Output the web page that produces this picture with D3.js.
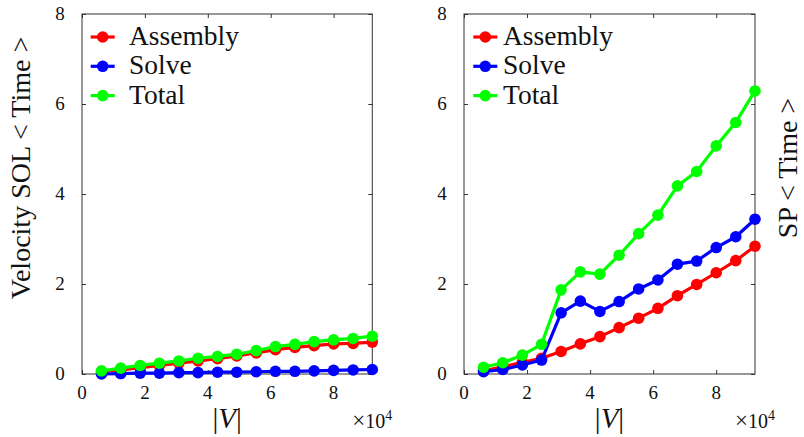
<!DOCTYPE html>
<html>
<head>
<meta charset="utf-8">
<script src="https://cdn.jsdelivr.net/npm/d3@7/dist/d3.min.js"></script>
<style>
  body { margin: 0; background: #fff; }
</style>
</head>
<body>
<div id="chart"></div>
<script>
// |V| in units of 1e4
var vSizes = [0.62, 1.23, 1.85, 2.46, 3.08, 3.69, 4.31, 4.92, 5.54, 6.15, 6.77, 7.38, 8.00, 8.62, 9.23];
var seriesNames = ["Assembly", "Solve", "Total"];
var seriesColors = ["#ff0000", "#0000ff", "#00ff00"];
var xTicks = [0, 2, 4, 6, 8];
var yTicks = [0, 2, 4, 6, 8];

// Velocity SOL
var solAssembly = [0.05, 0.09, 0.14, 0.19, 0.24, 0.29, 0.34, 0.40, 0.47, 0.54, 0.59, 0.63, 0.67, 0.68, 0.71];
var solSolve    = [0.00, 0.01, 0.02, 0.02, 0.03, 0.03, 0.04, 0.04, 0.05, 0.06, 0.06, 0.07, 0.08, 0.09, 0.10];
var solTotal    = [0.07, 0.13, 0.19, 0.24, 0.29, 0.35, 0.39, 0.44, 0.52, 0.61, 0.66, 0.72, 0.76, 0.79, 0.84];

// SP
var spAssembly = [0.07, 0.16, 0.26, 0.35, 0.50, 0.67, 0.83, 1.03, 1.24, 1.46, 1.74, 1.99, 2.25, 2.52, 2.84];
var spSolve    = [0.05, 0.10, 0.20, 0.31, 1.36, 1.62, 1.39, 1.61, 1.89, 2.09, 2.44, 2.51, 2.81, 3.05, 3.44];
var spTotal    = [0.15, 0.25, 0.42, 0.66, 1.87, 2.27, 2.22, 2.64, 3.12, 3.53, 4.18, 4.50, 5.07, 5.59, 6.29];

var svgWidth = 804, svgHeight = 437;
var serif = "\"Liberation Serif\"";

var svg = d3.select("#chart")
    .append("svg")
    .attr("width", svgWidth)
    .attr("height", svgHeight);

function txt(sel, size) {
    return sel.append("text")
        .style("font-family", serif)
        .attr("font-size", size)
        .attr("fill", "#111");
}

function drawPanel(opts) {
    var x = d3.scaleLinear().domain([0, d3.max(vSizes)]).range([opts.left, opts.right]);
    var y = d3.scaleLinear().domain([0, 8]).range([374, 14]);
    var g = svg.append("g");

    // frame
    g.append("rect")
        .attr("x", opts.left).attr("y", 14)
        .attr("width", opts.right - opts.left).attr("height", 360)
        .attr("fill", "none").attr("stroke", "#333").attr("stroke-width", 1);

    // inward ticks on all sides
    g.append("g").attr("transform", "translate(0,374)")
        .call(d3.axisTop(x).tickValues(xTicks).tickSize(4).tickFormat(""))
        .call(s => s.select(".domain").remove());
    g.append("g").attr("transform", "translate(0,14)")
        .call(d3.axisBottom(x).tickValues(xTicks).tickSize(4).tickFormat(""))
        .call(s => s.select(".domain").remove());
    g.append("g").attr("transform", "translate(" + opts.left + ",0)")
        .call(d3.axisRight(y).tickValues(yTicks).tickSize(4).tickFormat(""))
        .call(s => s.select(".domain").remove());
    g.append("g").attr("transform", "translate(" + opts.right + ",0)")
        .call(d3.axisLeft(y).tickValues(yTicks).tickSize(4).tickFormat(""))
        .call(s => s.select(".domain").remove());
    g.selectAll(".tick line").attr("stroke", "#333");

    // tick labels
    xTicks.forEach(function (d) {
        txt(g, 19).attr("x", x(d)).attr("y", 399)
            .attr("text-anchor", "middle").text(d);
    });
    yTicks.forEach(function (d) {
        txt(g, 19).attr("x", opts.left - 22).attr("y", y(d) + 6)
            .attr("text-anchor", "middle").text(d);
    });

    // x label |V|
    var xl = txt(g, 29)
        .attr("x", (opts.left + opts.right) / 2).attr("y", 428)
        .attr("text-anchor", "middle");
    xl.append("tspan").text("|");
    xl.append("tspan").attr("font-style", "italic").text("V");
    xl.append("tspan").text("|");

    // x10^4
    var ex = txt(g, 20)
        .attr("x", opts.right + 20).attr("y", 428)
        .attr("text-anchor", "end");
    ex.append("tspan").attr("font-size", 23).text("\u00d7");
    ex.append("tspan").text("10");
    ex.append("tspan").attr("font-size", 14).attr("dy", -8).text("4");

    // y label
    txt(g, 28)
        .attr("transform", "translate(" + opts.ylabX + ",168) rotate(-90)")
        .attr("text-anchor", "middle")
        .text(opts.ylabel);

    // series
    var line = d3.line().x((d, i) => x(vSizes[i])).y(d => y(d));
    opts.series.forEach(function (vals, k) {
        g.append("path")
            .datum(vals)
            .attr("d", line)
            .attr("fill", "none")
            .attr("stroke", seriesColors[k])
            .attr("stroke-width", 3.2)
            .attr("stroke-linejoin", "round");
        g.selectAll(null)
            .data(vals)
            .enter()
            .append("circle")
            .attr("cx", (d, i) => x(vSizes[i]))
            .attr("cy", d => y(d))
            .attr("r", 5.8)
            .attr("fill", seriesColors[k]);
    });

    // legend
    seriesNames.forEach(function (name, k) {
        var ly = 37 + k * 29.3;
        g.append("line")
            .attr("x1", opts.legX).attr("x2", opts.legX + 24)
            .attr("y1", ly).attr("y2", ly)
            .attr("stroke", seriesColors[k]).attr("stroke-width", 3.2);
        g.append("circle")
            .attr("cx", opts.legX + 12).attr("cy", ly).attr("r", 5.8)
            .attr("fill", seriesColors[k]);
        txt(g, 27.5)
            .attr("x", opts.legText).attr("y", ly + 8)
            .text(name);
    });
}

drawPanel({
    left: 82, right: 372.3, ylabX: 30,
    ylabel: "Velocity SOL < Time >",
    legX: 90.7, legText: 129,
    series: [solAssembly, solSolve, solTotal]
});

drawPanel({
    left: 464, right: 755, ylabX: 797,
    ylabel: "SP < Time >",
    legX: 473.3, legText: 503,
    series: [spAssembly, spSolve, spTotal]
});
</script>
</body>
</html>
